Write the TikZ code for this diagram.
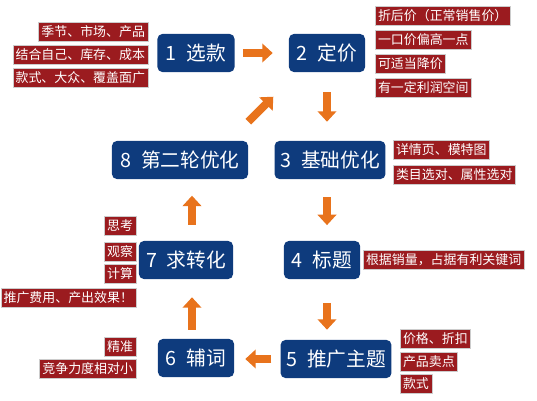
\documentclass[tikz,border=0pt]{standalone}
\usepackage{fontspec}
\newfontfamily\cjk{Noto Sans CJK SC}
\usetikzlibrary{arrows.meta}
\definecolor{stepblue}{HTML}{0E3B7D}
\definecolor{tagred}{HTML}{9B1B1F}
\definecolor{flowor}{HTML}{E8731C}
\tikzset{
  stepbox/.style={fill=stepblue, text=white, rounded corners=0.12cm, minimum height=0.95cm, inner xsep=4pt, font=\cjk\fontsize{14}{16}\selectfont},
  tagbox/.style={fill=tagred, draw=gray!40, line width=0.3pt, text=white, minimum height=0.47cm, inner xsep=2pt, inner ysep=0pt, font=\cjk\fontsize{9.2}{11}\selectfont},
  flow/.style={draw=flowor, line width=0.2cm, -{Triangle[length=0.26cm,width=0.46cm]}}
}
\begin{document}
\begin{tikzpicture}[x=0.025cm,y=-0.025cm]
    \useasboundingbox (0,0) rectangle (537,400);

    % Steps
    \node[stepbox, minimum width=1.925cm] (n1) at (196,53) {1\enspace 选款};
    \node[stepbox, minimum width=1.9cm] (n2) at (327,53) {2\enspace 定价};
    \node[stepbox, minimum width=3.4cm] (n8) at (180,160) {8\enspace 第二轮优化};
    \node[stepbox, minimum width=2.75cm] (n3) at (330,160) {3\enspace 基础优化};
    \node[stepbox, minimum width=2.35cm] (n7) at (186,260) {7\enspace 求转化};
    \node[stepbox, minimum width=1.9cm] (n4) at (322,260) {4\enspace 标题};
    \node[stepbox, minimum width=1.9cm] (n6) at (196,358) {6\enspace 辅词};
    \node[stepbox, minimum width=2.65cm] (n5) at (336,359) {5\enspace 推广主题};

    % Notes
    \node[tagbox, anchor=east] (t1a) at (148,31.5) {季节、市场、产品};
    \node[tagbox, anchor=east] (t1b) at (148,54.5) {结合自己、库存、成本};
    \node[tagbox, anchor=east] (t1c) at (148,78) {款式、大众、覆盖面广};

    \node[tagbox, anchor=west] (t2a) at (375,16) {折后价（正常销售价）};
    \node[tagbox, anchor=west] (t2b) at (375,40) {一口价偏高一点};
    \node[tagbox, anchor=west] (t2c) at (375,63.5) {可适当降价};
    \node[tagbox, anchor=west] (t2d) at (375,87.5) {有一定利润空间};

    \node[tagbox, anchor=west] (t3a) at (393,150) {详情页、模特图};
    \node[tagbox, anchor=west] (t3b) at (393,175) {类目选对、属性选对};

    \node[tagbox, anchor=west] (t4a) at (363,259.5) {根据销量，占据有利关键词};

    \node[tagbox, anchor=west] (t5a) at (400,338.5) {价格、折扣};
    \node[tagbox, anchor=west] (t5b) at (400,361.5) {产品卖点};
    \node[tagbox, anchor=west] (t5c) at (400,384) {款式};

    \node[tagbox, anchor=east] (t6a) at (136,347) {精准};
    \node[tagbox, anchor=east] (t6b) at (136,369) {竞争力度相对小};

    \node[tagbox, anchor=east] (t7a) at (136,225.5) {思考};
    \node[tagbox, anchor=east] (t7b) at (136,251.5) {观察};
    \node[tagbox, anchor=east] (t7c) at (136,274) {计算};
    \node[tagbox, anchor=east] (t7d) at (136,298) {推广费用、产出效果！};

    % Flow
    \draw[flow, shorten <=0.2cm, shorten >=0.4cm] (n1.east) -- (n2.west);
    \draw[flow, shorten <=0.5cm, shorten >=0.475cm] (n2.south) -- (n2.south |- n3.north);
    \draw[flow, shorten <=0.45cm, shorten >=0.39cm] (n2.south |- n3.south) -- (n2.south |- n4.north);
    \draw[flow, shorten <=0.59cm, shorten >=0.25cm] (n2.south |- n4.south) -- (n2.south |- n5.north);
    \draw[flow, shorten <=0.225cm, shorten >=0.275cm] (n5.west) -- (n5.west -| n6.east);
    \draw[flow, shorten <=0.225cm, shorten >=0.45cm] ([xshift=-0.1cm]n6.north) -- ([xshift=-0.1cm]n6.north |- n7.south);
    \draw[flow, shorten <=0.4cm, shorten >=0.41cm] ([xshift=-0.1cm]n6.north |- n7.north) -- ([xshift=-0.1cm]n6.north |- n8.south);
    \draw[flow] ([shift={(0,-19)}]n8.north east) -- ++(25,-25);
\end{tikzpicture}
\end{document}
